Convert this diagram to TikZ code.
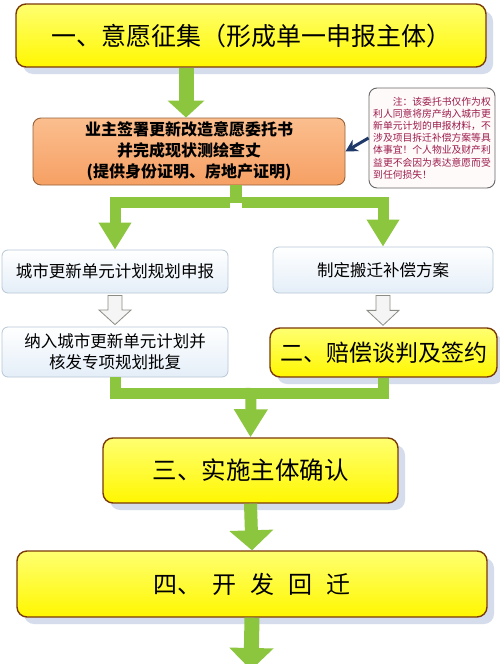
\documentclass[tikz,border=0pt]{standalone}
\usepackage{fontspec}
\setmainfont{Noto Sans CJK SC}
\usetikzlibrary{positioning,calc,arrows.meta,shadows}
\definecolor{leaf}{HTML}{8CC63F}
\definecolor{lemon}{HTML}{FFF700}
\definecolor{lemontop}{HTML}{FFFF70}
\definecolor{rust}{HTML}{7A3A08}
\definecolor{peach}{HTML}{F6A064}
\definecolor{peachtop}{HTML}{FBBE8E}
\definecolor{mist}{HTML}{E4EEF8}
\definecolor{frost}{HTML}{B7C7D6}
\definecolor{berry}{HTML}{9B1B4B}
\definecolor{navy}{HTML}{1F3A68}
\definecolor{haze}{HTML}{D5DCEB}
\definecolor{pebble}{HTML}{8C8C84}

% hollow grey arrow between two boxes
\newcommand\hollowarrow[2]{%
  \draw[hollow] let \p1=(#1.south), \p2=(#2.north), \p3=($(#1.south)!0.5!(#2.north)$) in
    (\x1-7pt,\y1-2pt) -- (\x1+7pt,\y1-2pt) -- (\x1+7pt,\y3) -- (\x1+16pt,\y3)
    -- (\x1,\y2+2pt) -- (\x1-16pt,\y3) -- (\x1-7pt,\y3) -- cycle;}

\begin{document}
\begin{tikzpicture}[x=1pt,y=-1pt,
    stage/.style={draw=rust,line width=1.4pt,rounded corners=10pt,
      top color=lemontop,bottom color=lemon,
      drop shadow={shadow xshift=7pt,shadow yshift=-7pt,fill=haze,opacity=1},
      align=center,inner sep=0pt},
    task/.style={draw=frost,line width=0.8pt,rounded corners=6pt,
      top color=white,bottom color=mist,align=center,inner sep=0pt,
      font=\fontsize{16.5}{21}\selectfont},
    flow/.style={leaf,line width=14pt},
    hollow/.style={draw=pebble,line width=0.8pt,fill=black!4},
    pointer/.style={navy,line width=3pt,
      -{Stealth[length=12pt,width=13pt]}}]
  \fill[white] (0,0) rectangle (500,664);
  \useasboundingbox (0,0) rectangle (500,664);

  % boxes
  \node[stage,minimum width=470,minimum height=63,
    font=\fontsize{25}{30}\selectfont] (s1) at (251,35.5)
    {一、意愿征集（形成单一申报主体）};
  \node[draw=rust!80,line width=0.9pt,rounded corners=8pt,
    top color=peachtop,bottom color=peach,align=center,inner sep=0pt,
    minimum width=312,minimum height=67,
    font=\bfseries\fontsize{16}{21}\selectfont] (s2) at (189,151.5)
    {业主签署更新改造意愿委托书\\并完成现状测绘查丈\\(提供身份证明、房地产证明)};
  \node[draw=black!60,line width=0.9pt,rounded corners=8pt,fill=red!2,
    text=berry,align=left,inner sep=0pt,minimum width=126,minimum height=100,
    font=\fontsize{9.8}{12.2}\selectfont] (note) at (432,138)
    {\hspace{2em}注：该委托书仅作为权\\利人同意将房产纳入城市更\\新单元计划的申报材料，不\\涉及项目拆迁补偿方案等具\\体事宜！个人物业及财产利\\益更不会因为表达意愿而受\\到任何损失！};
  \node[task,minimum width=226,minimum height=43] (plan) at (115,271.5)
    {城市更新单元计划规划申报};
  \node[task,minimum width=220,minimum height=46] (comp) at (383,270)
    {制定搬迁补偿方案};
  \node[task,minimum width=226,minimum height=50] (approve) at (115,352)
    {纳入城市更新单元计划并\\核发专项规划批复};
  \node[stage,minimum width=227,minimum height=49,
    font=\fontsize{23}{28}\selectfont] (s2b) at (383.5,352.5)
    {二、赔偿谈判及签约};
  \node[stage,minimum width=295,minimum height=65,
    font=\fontsize{24.5}{30}\selectfont] (s3) at (250.5,470.5)
    {三、实施主体确认};
  \node[stage,minimum width=470,minimum height=66,
    font=\fontsize{24}{30}\selectfont] (s4) at (252,584)
    {四、\hspace{11pt}开\hspace{14pt}发\hspace{14pt}回\hspace{14pt}迁};

  % connectors
  \coordinate (split) at (236,202.5);
  \coordinate (merge) at (251,393);
  \coordinate (out) at (251,670);
  \draw[flow,line width=15pt,-{Triangle[width=36pt,length=17pt]}]
    (s1.south -| 186,0) -- (s2.north -| 186,0);
  \draw[flow,line width=12pt] (s2.south -| split) -- (split);
  \draw[flow,line width=11pt,-{Triangle[width=31pt,length=27pt]}]
    ([xshift=-6pt]split) -| (plan.north);
  \draw[flow,line width=11pt,-{Triangle[width=31pt,length=27pt]}]
    ([xshift=6pt]split) -| (comp.north);
  \draw[flow,line width=11pt] (approve.south) |- (merge) -| (s2b.south);
  \draw[flow,line width=11pt,-{Triangle[width=32pt,length=28pt]}]
    ([yshift=5pt]merge) -- (s3.north);
  \draw[flow,line width=13pt,-{Triangle[width=43pt,length=20pt]}]
    (s3.south) -- (s4.north);
  \draw[flow,line width=15pt,-{Triangle[width=43pt,length=22pt]}]
    (s4.south) -- (out);
  \hollowarrow{plan}{approve}
  \hollowarrow{comp}{s2b}
  \draw[pointer] (note.west) -- (s2.east);
\end{tikzpicture}
\end{document}
